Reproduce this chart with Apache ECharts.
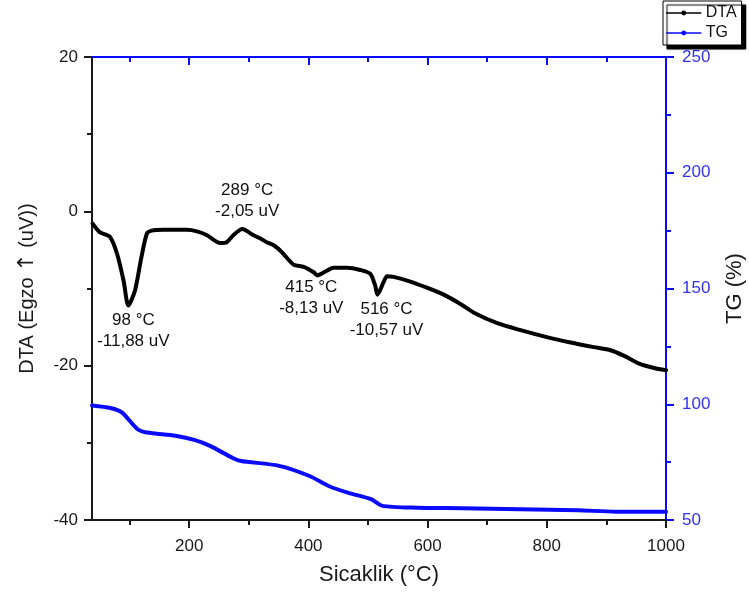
<!DOCTYPE html>
<html>
<head>
<meta charset="utf-8">
<script src="https://cdn.jsdelivr.net/npm/echarts@6/dist/echarts.min.js"></script>
<style>
html,body{margin:0;padding:0;background:#fff;overflow:hidden;}
#c{width:749px;height:604px;}
</style>
</head>
<body>
<div id="c"></div>
<script>
// ---- data ----
const dtaTemp = [38,50,67,79,90,98,109,120,129,137,157,196,213,230,252,263,274,289,308,319,330,342,353,358,375,392,409,415,431,442,465,487,504,512,516,526,532,543,571,599,627,655,677,717,756,800,840,879,907,929,957,980,1000];
const dtaVal  = [-1.6,-2.7,-3.3,-5.5,-9.0,-12.2,-10.3,-5.9,-2.9,-2.5,-2.4,-2.4,-2.6,-3.1,-4.1,-4.0,-3.1,-2.3,-3.1,-3.5,-4.0,-4.4,-5.1,-5.5,-6.9,-7.2,-7.9,-8.3,-7.7,-7.3,-7.3,-7.6,-8.1,-9.6,-10.8,-9.2,-8.4,-8.5,-9.1,-9.9,-10.8,-12.0,-13.1,-14.5,-15.4,-16.3,-17.0,-17.6,-18.0,-18.7,-19.8,-20.3,-20.6];
const tgTemp = [37,68,87,113,129,177,210,235,274,287,351,402,434,466,505,524,582,659,755,852,916,1000];
const tgVal  = [99.5,98.4,96.5,89.3,87.8,86.4,84.5,82.0,76.7,75.5,73.4,69.0,64.7,61.8,59.0,56.1,55.3,55.1,54.6,54.2,53.6,53.6];
const xMajorTicks = [200,400,600,800,1000];
const xMinorTicks = [100,300,500,700,900];
const peakTemps = [98,289,415,516];
const peakVals  = [-11.88,-2.05,-8.13,-10.57];
const peakLabels = ['98 °C\n-11,88 uV','289 °C\n-2,05 uV','415 °C\n-8,13 uV','516 °C\n-10,57 uV'];
const peakOffsets = [[5,28],[5,-26],[-6,24],[9,27]];

const FONT = 'Liberation Sans, Arial, sans-serif';
const BLUE = '#0a0aff';
const DARK = '#1a1a1a';

const dtaData = dtaTemp.map((t,i)=>[t,dtaVal[i]]);
const tgData = tgTemp.map((t,i)=>[t,tgVal[i]]);

const gridBox = {left:92, right:83, top:57, bottom:84, containLabel:false, outerBoundsMode:'none'};

const chart = echarts.init(document.getElementById('c'), null, {renderer:'canvas'});
chart.setOption({
  backgroundColor:'#fff',
  animation:false,
  textStyle:{fontFamily:FONT},
  grid:[Object.assign({}, gridBox), Object.assign({}, gridBox)],
  legend:{
    data:['DTA','TG'], orient:'vertical', left:663, top:1,
    itemWidth:34, itemHeight:6, itemGap:4,
    padding:[4,5,4,3],
    textStyle:{fontSize:16, color:'#111', fontFamily:FONT},
    borderColor:'#000', borderWidth:1, backgroundColor:'#fff',
    shadowColor:'#000', shadowOffsetX:4, shadowOffsetY:4, shadowBlur:1,
    lineStyle:{width:1.5},
    borderRadius:0
  },
  xAxis:[
    {type:'value', gridIndex:0, position:'bottom', min:37, max:1000,
     axisLine:{show:true, onZero:false, lineStyle:{color:DARK, width:2}},
     axisTick:{show:true, customValues:xMajorTicks, length:8, lineStyle:{color:DARK, width:2}},
     axisLabel:{customValues:xMajorTicks, formatter:(v)=>String(v), fontSize:17, color:DARK, margin:18, fontFamily:FONT},
     splitLine:{show:false},
     name:'Sicaklik (°C)', nameLocation:'middle', nameGap:44,
     nameTextStyle:{fontSize:22, color:DARK, fontFamily:FONT}},
    {type:'value', gridIndex:0, position:'top', min:37, max:1000,
     axisLine:{show:true, onZero:false, lineStyle:{color:BLUE, width:2}},
     axisTick:{show:true, inside:true, customValues:xMajorTicks, length:8, lineStyle:{color:BLUE, width:2}},
     axisLabel:{show:false}, splitLine:{show:false}},
    {type:'value', gridIndex:1, position:'bottom', min:37, max:1000,
     axisLine:{show:false},
     axisTick:{show:true, customValues:xMinorTicks, length:5, lineStyle:{color:DARK, width:2}},
     axisLabel:{show:false}, splitLine:{show:false}},
    {type:'value', gridIndex:1, position:'top', min:37, max:1000,
     axisLine:{show:false},
     axisTick:{show:true, inside:true, customValues:xMinorTicks, length:5, lineStyle:{color:BLUE, width:2}},
     axisLabel:{show:false}, splitLine:{show:false}}
  ],
  yAxis:[
    {type:'value', gridIndex:0, position:'left', min:-40, max:20, interval:20,
     axisLine:{show:true, onZero:false, lineStyle:{color:DARK, width:2}},
     axisTick:{show:true, length:8, lineStyle:{color:DARK, width:2}},
     minorTick:{show:true, splitNumber:2, length:5, lineStyle:{color:DARK, width:2}},
     axisLabel:{fontSize:17, color:DARK, margin:14, fontFamily:FONT},
     splitLine:{show:false},
     name:'DTA (Egzo {arr|↑} (uV))', nameLocation:'middle', nameGap:54, nameRotate:90,
     nameTextStyle:{fontSize:20, color:DARK, fontFamily:FONT,
       rich:{arr:{fontSize:22, fontFamily:'DejaVu Sans', color:DARK}}}},
    {type:'value', gridIndex:0, position:'right', min:50, max:250, interval:50,
     axisLine:{show:true, onZero:false, lineStyle:{color:BLUE, width:2}},
     axisTick:{show:true, length:8, lineStyle:{color:BLUE, width:2}},
     minorTick:{show:true, splitNumber:2, length:5, lineStyle:{color:BLUE, width:2}},
     axisLabel:{fontSize:17, color:'#3030ff', margin:16, fontFamily:FONT},
     splitLine:{show:false},
     name:'TG (%)', nameLocation:'middle', nameGap:58, nameRotate:90,
     nameTextStyle:{fontSize:22, color:DARK, fontFamily:FONT}},
    {type:'value', gridIndex:1, min:0, max:1, show:false}
  ],
  series:[
    {name:'DTA', type:'line', xAxisIndex:0, yAxisIndex:0, data:dtaData,
     symbol:'circle', symbolSize:5, showSymbol:false, smooth:0.25,
     lineStyle:{color:'#000', width:4, join:'round', cap:'round'},
     itemStyle:{color:'#000'}, z:3,
     markPoint:{
       symbol:'circle', symbolSize:1, itemStyle:{color:'rgba(0,0,0,0)'},
       label:{show:true, position:'inside', fontSize:17, lineHeight:21, color:'#111', fontFamily:FONT, align:'center', verticalAlign:'middle'},
       data: peakTemps.map((t,i)=>({coord:[t,peakVals[i]], value:peakLabels[i],
         label:{formatter:peakLabels[i], offset:peakOffsets[i]}}))
     }},
    {name:'TG', type:'line', xAxisIndex:0, yAxisIndex:1, data:tgData,
     symbol:'circle', symbolSize:5, showSymbol:false, smooth:0.25,
     lineStyle:{color:BLUE, width:4, join:'round', cap:'round'},
     itemStyle:{color:BLUE}, z:2}
  ]
});
</script>
</body>
</html>
